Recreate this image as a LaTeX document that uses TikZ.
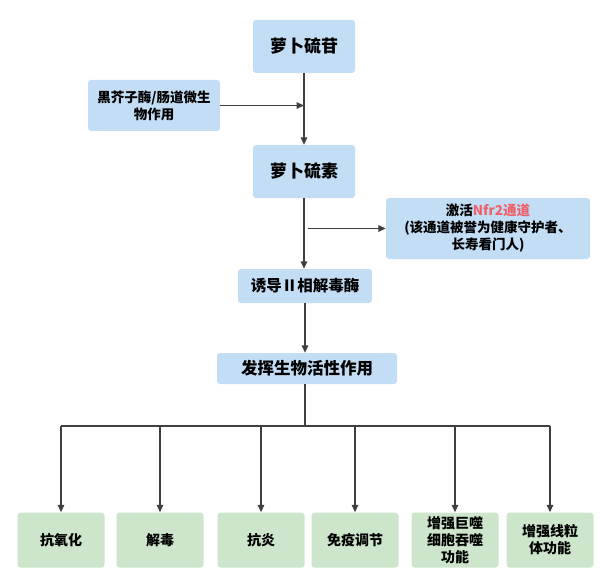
\documentclass[tikz,border=0pt]{standalone}
\usepackage{fontspec}
\setmainfont{Noto Sans CJK SC}
\usepackage{xcolor}
\usetikzlibrary{arrows.meta}
\definecolor{boxblue}{HTML}{C3DDF5}
\definecolor{boxgreen}{HTML}{CDE6CB}
\definecolor{linegray}{HTML}{3F3F3F}
\definecolor{nrfred}{HTML}{EE6168}

\begin{document}
\begin{tikzpicture}[x=1pt,y=-1pt,>={Triangle[length=7.5pt,width=6.5pt]},
  bluebox/.style={rectangle,fill=boxblue,rounded corners=3pt,align=center,inner sep=2pt,font=\bfseries},
  greenbox/.style={rectangle,fill=boxgreen,rounded corners=3pt,align=center,inner sep=2pt,minimum width=87pt,minimum height=55pt,font=\fontsize{14}{17}\selectfont\bfseries},
  link/.style={draw=linegray,line width=1.5pt}]
\useasboundingbox (0,0) rectangle (600,575);
\node[bluebox,minimum width=102pt,minimum height=53pt,font=\fontsize{17}{20}\selectfont\bfseries] (glu) at (304,46.5) {萝卜硫苷};
\node[bluebox,minimum width=132pt,minimum height=51pt,font=\fontsize{13.5}{17}\selectfont\bfseries] (enz) at (154,105.5) {黑芥子酶/肠道微生\\物作用};
\node[bluebox,minimum width=102pt,minimum height=53pt,font=\fontsize{17}{20}\selectfont\bfseries] (sfn) at (304,171.5) {萝卜硫素};
\node[bluebox,minimum width=204pt,minimum height=61pt,font=\fontsize{13.5}{17}\selectfont\bfseries] (nrf) at (488,228.5) {激活{\color{nrfred}Nfr2通道}\\(该通道被誉为健康守护者、\\长寿看门人)};
\node[bluebox,minimum width=134pt,minimum height=34pt,font=\fontsize{15.5}{18}\selectfont\bfseries] (ind) at (305,286) {诱导Ⅱ相解毒酶};
\node[bluebox,minimum width=180pt,minimum height=31pt,font=\fontsize{16.5}{19}\selectfont\bfseries] (bio) at (307,368.5) {发挥生物活性作用};
\node[greenbox] (e1) at (61,540) {抗氧化};
\node[greenbox] (e2) at (160,540) {解毒};
\node[greenbox] (e3) at (261,540) {抗炎};
\node[greenbox] (e4) at (355,540) {免疫调节};
\node[greenbox] (e5) at (455,540) {增强巨噬\\细胞吞噬\\功能};
\node[greenbox] (e6) at (550,540) {增强线粒\\体功能};
\coordinate (br) at (308,228.5);
\coordinate (bar) at (0,426);
\draw[link,->] (glu) -- (sfn);
\draw[link,->] (enz.east) -- (enz.east -| glu.south);
\draw[link,->] (sfn) -- (sfn |- ind.north);
\draw[link,->] (br) -- (nrf);
\draw[link,->] (ind) -- (ind |- bio.north);
\draw[link] (ind |- bio.south) -- (ind |- bar);
\draw[link] (e1 |- bar) -- (e6 |- bar);
\foreach \i in {1,...,6}
  \draw[link,->] (e\i |- bar) -- (e\i);
\end{tikzpicture}
\end{document}
